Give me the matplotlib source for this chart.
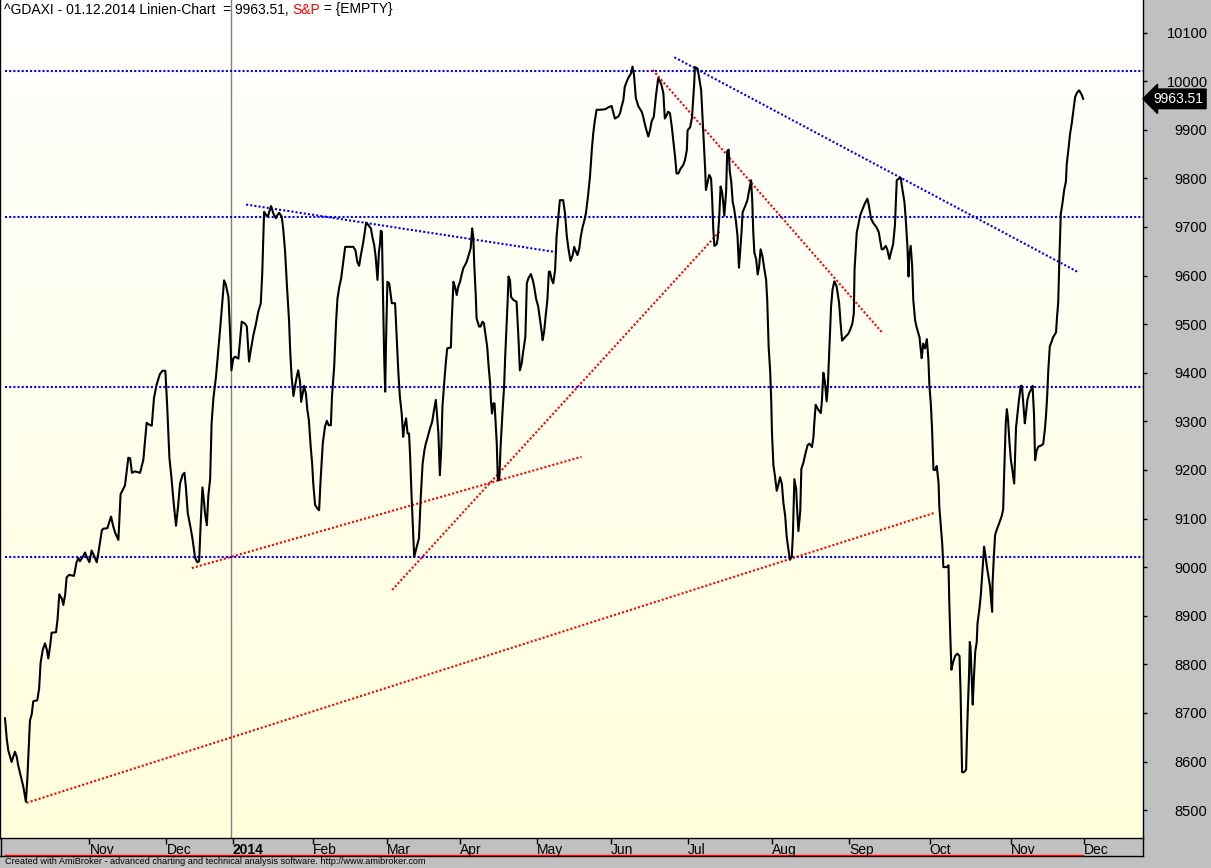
import numpy as np
import matplotlib
matplotlib.use('Agg')
import matplotlib.pyplot as plt
from matplotlib.colors import LinearSegmentedColormap
from matplotlib.lines import Line2D
from matplotlib.transforms import blended_transform_factory

# ^GDAXI daily closes, x = trading day number from the first bar
bar = [0.0, 0.5, 0.9, 1.8, 2.7, 3.2, 3.6, 4.3, 5.0, 5.7, 6.1, 6.8, 7.3, 7.7, 8.8, 9.3, 9.7, 10.3, 10.9, 11.4,
       11.8, 12.3, 12.7, 13.9, 14.3, 14.8, 15.5, 15.9, 16.4, 16.8, 17.5, 18.8, 19.5, 20.0, 20.4, 21.2, 21.8, 22.4,
       23.0, 23.6, 24.3, 25.0, 25.4, 26.4, 26.8, 27.9, 28.9, 29.5, 30.0, 30.9, 31.5, 32.7, 33.6, 34.1, 34.6, 35.4,
       36.8, 37.7, 38.6, 39.3, 40.0, 40.6, 41.3, 42.2, 42.9, 43.7, 44.2, 44.8, 45.4, 45.9, 46.6, 47.2, 47.7, 48.4,
       48.9, 49.3, 49.8, 50.6, 51.1, 51.8, 52.4, 52.9, 53.3, 53.8, 54.2, 54.5, 55.0, 55.4, 55.9, 56.3, 56.8, 57.5,
       58.1, 58.8, 59.7, 60.2, 60.9, 61.5, 61.7,
       62.2, 62.7, 63.6, 64.5, 65.4, 65.9, 66.5, 66.9, 67.7, 68.4, 69.0, 69.7, 70.1, 70.6, 71.1, 71.6, 72.0, 72.5,
       73.1, 73.8, 74.2, 74.7, 75.4, 75.8, 76.3, 76.9, 77.4, 77.7, 78.1, 78.6, 79.0, 79.5, 79.9, 80.4, 80.7, 81.1,
       81.5, 82.0, 82.4, 82.8, 83.3, 83.7, 84.0, 84.5, 85.1, 85.6, 86.0, 86.6, 87.2, 87.7, 88.2, 88.8, 89.1, 89.7,
       90.2, 90.6, 91.1, 91.6, 92.0, 92.7, 94.9, 95.5, 96.0, 96.5, 96.9, 97.5, 98.0, 98.4, 99.0, 99.7, 100.2,
       100.6, 101.0, 101.3, 101.5, 101.9, 102.2, 102.4, 102.7, 102.9, 103.1, 103.3, 103.6, 103.8, 104.2, 104.7,
       105.4, 106.3, 106.7, 107.2, 107.6, 108.1, 108.5, 108.8, 109.3, 109.7, 110.1, 110.4, 110.8, 111.3, 111.5,
       112.2, 112.8, 113.3, 113.8, 114.3, 114.7, 115.2, 115.8, 116.4, 116.9, 117.4, 117.7, 118.1, 118.3, 118.5,
       118.9, 119.2, 119.6, 120.1, 120.5, 121.5, 121.7, 122.2, 122.6, 123.1, 123.5, 124.0, 124.5, 124.9,
       125.8, 126.9, 127.3, 127.6, 127.9, 128.3, 128.5, 129.2, 129.6, 130.1, 130.5, 131.0, 131.4, 131.8, 132.2,
       132.4, 132.7, 133.1, 133.4, 133.7, 134.0, 134.3, 134.7, 135.0, 135.3, 135.6, 136.0, 136.3, 136.7, 137.0,
       137.2, 137.6, 137.9, 138.5, 139.4, 139.9, 140.3, 140.8, 141.2, 141.8, 142.2, 142.6, 143.3, 143.8, 144.2,
       144.7, 145.3, 145.8, 146.3, 146.5, 146.9, 147.4, 147.8, 148.2, 148.5, 149.0, 149.4, 149.9, 150.3, 150.8,
       151.2, 152.1, 152.6, 153.1, 153.6, 154.1, 154.7, 155.1, 155.6, 156.0, 156.5, 156.9, 157.4, 157.8, 158.3,
       158.9, 159.4, 159.9, 160.3, 160.7, 161.2, 162.1, 163.5, 164.4, 165.3, 165.7, 166.2, 167.1, 167.6, 168.0,
       168.5, 168.9, 169.8, 170.6, 171.0, 171.4, 171.9, 172.6, 173.5, 173.9, 174.4, 174.9, 175.3, 175.8, 176.2,
       176.8, 177.4, 178.0, 178.5, 178.9, 179.4, 179.8, 180.3, 180.7, 181.2, 181.7, 182.1, 182.6, 183.0, 183.5,
       184.1, 184.8, 185.3, 185.8, 186.0, 186.7, 187.2, 187.8, 188.0, 188.7, 189.2, 189.7, 190.0, 190.5, 190.8,
       191.0, 191.5, 191.9, 192.4, 192.7, 193.0, 193.3, 193.9, 194.2, 194.6, 195.0, 195.4, 195.7, 196.0, 196.5,
       196.8, 197.2, 197.5, 197.9, 198.3, 198.7, 199.2, 199.6, 200.0, 200.3, 200.7, 201.0, 201.6, 202.3, 202.7,
       203.3, 203.6, 203.9, 204.2, 204.7, 205.1, 205.5, 205.9, 206.4, 206.8, 207.4, 207.7, 208.1, 208.5, 208.8,
       209.0, 209.4, 209.8, 210.3, 210.7, 211.2, 211.7, 212.1, 212.6, 213.0, 213.5, 213.9, 214.4, 214.7, 215.1,
       215.6, 215.8, 216.2, 216.7, 217.0, 217.6, 218.0, 218.7, 219.2, 219.9, 220.3, 220.5, 220.9, 221.6, 222.3,
       222.6, 223.0, 223.4, 223.9, 224.2, 224.6, 225.1, 225.5, 226.0, 226.6, 227.3, 227.7, 228.1, 228.9, 229.8,
       230.4, 230.9, 231.3, 231.5, 232.1, 232.5, 233.0, 233.7, 234.3, 235.0, 235.4, 236.0, 236.6, 237.5, 238.1,
       238.4, 238.9, 239.3, 240.0, 240.4, 241.0, 241.4, 242.0, 242.5, 243.0, 243.7, 244.1, 244.5, 245.1, 245.5,
       245.9, 246.2, 246.4, 246.8, 247.2, 247.5, 248.0, 248.4, 249.2, 249.5, 249.8, 250.2, 250.7, 251.2, 251.6,
       251.9, 252.3, 252.6, 253.0, 253.5, 253.9, 254.4, 254.6, 255.0, 255.4, 255.7, 256.6, 257.1, 257.3, 257.6,
       257.9, 258.3, 258.9, 259.5, 260.1, 260.4, 260.6, 260.8, 261.3, 261.9, 262.1, 262.4, 262.7, 262.9, 263.1,
       263.4, 263.7, 264.0, 264.4, 264.8, 265.0, 265.5, 265.9, 266.4, 266.8, 267.1, 267.5, 268.0, 268.4, 268.7,
       269.0, 269.1, 269.5, 269.8, 270.2, 270.9, 271.6, 272.0, 272.3, 272.7, 273.0, 273.3, 273.7, 274.1, 274.5,
       275.0, 275.2, 275.5, 275.9, 276.3, 276.8, 277.1, 277.5, 277.9, 278.2, 278.6, 279.1, 279.8, 280.0, 280.4,
       280.7, 281.1, 281.6, 282.3, 282.9, 283.4, 283.7, 284.0, 284.3, 284.7, 285.2, 285.6, 286.4, 286.7, 287.0,
       287.3, 287.7, 288.1, 288.6, 289.1, 289.3, 289.8, 290.2, 290.7, 291.1, 291.6, 292.1, 292.7, 293.4, 293.8]

close = [8689, 8645, 8623, 8599, 8620, 8610, 8592, 8570, 8548, 8517, 8566, 8684, 8698, 8724, 8726, 8750, 8803,
         8830, 8843, 8830, 8812, 8838, 8865, 8866, 8891, 8944, 8935, 8922, 8944, 8979, 8984, 8982, 9010, 9019,
         9012, 9021, 9030, 9019, 9010, 9034, 9023, 9010, 9027, 9076, 9079, 9080, 9104, 9084, 9071, 9056, 9150,
         9168, 9225, 9224, 9194, 9197, 9194, 9221, 9297, 9293, 9291, 9348, 9375, 9397, 9404, 9404, 9331, 9225,
         9181, 9137, 9085, 9128, 9172, 9190, 9194, 9164, 9111, 9080, 9058, 9019, 9010, 9012, 9085, 9164, 9137,
         9111, 9086, 9146, 9181, 9296, 9348, 9392, 9445, 9506, 9590, 9581, 9555, 9454, 9405,
         9429, 9433, 9429, 9505, 9501, 9495, 9423, 9443, 9478, 9501, 9525, 9543, 9604, 9731, 9725, 9721, 9731,
         9743, 9728, 9718, 9724, 9729, 9721, 9697, 9652, 9570, 9508, 9447, 9392, 9352, 9371, 9392, 9405, 9381,
         9340, 9357, 9373, 9357, 9323, 9303, 9248, 9213, 9172, 9128, 9121, 9117, 9179, 9255, 9289, 9301, 9292,
         9292, 9351, 9412, 9502, 9553, 9577, 9594, 9618, 9659, 9659, 9652, 9628, 9620, 9639, 9663, 9687, 9709,
         9704, 9697, 9676, 9663, 9639, 9611, 9591, 9649, 9666, 9692, 9690, 9611, 9522, 9440, 9361, 9453, 9587,
         9584, 9543, 9543, 9481, 9399, 9351, 9316, 9268, 9289, 9306, 9275, 9275, 9227, 9145, 9059, 9021, 9042,
         9059, 9145, 9213, 9241, 9255, 9268, 9285, 9299, 9323, 9344, 9316, 9275, 9234, 9189, 9248, 9330, 9371,
         9419, 9450, 9452, 9501, 9587, 9577, 9560, 9577, 9587, 9604, 9615,
         9628, 9656, 9697, 9680, 9618, 9556, 9512, 9495, 9495, 9505, 9502, 9474, 9453, 9412, 9378, 9344, 9316,
         9337, 9337, 9296, 9255, 9179, 9179, 9241, 9282, 9323, 9371, 9433, 9501, 9553, 9598, 9591, 9556, 9550,
         9546, 9474, 9405, 9419, 9443, 9474, 9584, 9594, 9603, 9591, 9577, 9553, 9536, 9508, 9481, 9467, 9484,
         9522, 9550, 9608, 9608, 9591, 9584, 9611, 9680, 9721, 9755, 9755, 9728, 9680, 9652, 9630, 9642, 9659,
         9649, 9642, 9656, 9680, 9700, 9711, 9728, 9766, 9803, 9858, 9893, 9917, 9941, 9941, 9942, 9946, 9949,
         9937, 9923, 9927, 9934, 9947, 9961, 9989, 10006, 10016, 10030, 10013, 9965, 9948, 9937, 9927, 9910,
         9896, 9886, 9900, 9917, 9927, 9971, 10006, 9999, 9992, 9975, 9923, 9930, 9937, 9934, 9906, 9879, 9844,
         9810, 9810, 9820, 9827, 9838, 9858, 9899, 9905, 9925, 9994, 10029, 10026, 10005, 9981, 9935, 9862,
         9817, 9776, 9793, 9807, 9800, 9758, 9696, 9661, 9664, 9675, 9717, 9783, 9772, 9751, 9723, 9772, 9856,
         9859, 9814, 9793, 9751, 9737, 9710, 9682, 9616, 9647, 9689, 9730, 9741, 9755, 9772, 9796, 9758, 9689,
         9647, 9633, 9602, 9619, 9654, 9640, 9619, 9591, 9550, 9452, 9404, 9341, 9275, 9209, 9188, 9157, 9168,
         9185, 9171, 9133, 9105, 9063, 9035, 9015, 9022, 9067, 9181, 9160, 9126, 9074, 9115, 9202, 9216, 9230,
         9251, 9254, 9247, 9268, 9293, 9334, 9324, 9317, 9341, 9400, 9383, 9341, 9369, 9445, 9536, 9571, 9588,
         9578, 9543, 9501, 9466, 9473, 9480, 9490, 9501, 9522, 9612, 9689, 9703, 9723, 9737, 9748, 9758, 9744,
         9717, 9708, 9699, 9689, 9675, 9654, 9654, 9661, 9654, 9634, 9647, 9664, 9703, 9796, 9800, 9801, 9779,
         9751, 9710, 9661, 9598, 9640, 9661, 9619, 9550, 9508, 9494, 9473, 9450, 9430, 9460, 9450, 9469, 9430,
         9373, 9334, 9287, 9200, 9200, 9208, 9172, 9124, 9085, 9047, 9000, 9000, 9004, 8932, 8856, 8789, 8803,
         8817, 8822, 8817, 8740, 8654, 8578, 8578, 8583, 8645, 8717, 8780, 8846, 8836, 8779, 8717, 8769, 8827,
         8846, 8884, 8913, 8942, 8999, 9042, 9028, 9004, 8980, 8961, 8932, 8908, 8966, 9028, 9066, 9076, 9090,
         9105, 9119, 9200, 9296, 9325, 9306, 9258, 9220, 9200, 9172, 9220, 9287, 9315, 9344, 9373, 9373, 9334,
         9296, 9315, 9344, 9358, 9368, 9373, 9315, 9220, 9239, 9248, 9250, 9253, 9286, 9315, 9354, 9406, 9454,
         9464, 9473, 9483, 9517, 9545, 9631, 9727, 9746, 9775, 9794, 9828, 9861, 9890, 9914, 9938, 9967, 9976,
         9981, 9972, 9963.51]

last_close = 9963.51

month_bars = [23, 44, 62, 84, 104, 124, 145, 165, 186, 209, 230, 252, 274, 294]
month_labels = ['Nov', 'Dec', '2014', 'Feb', 'Mar', 'Apr', 'May', 'Jun', 'Jul', 'Aug', 'Sep', 'Oct', 'Nov', 'Dec']
year_bar = 62

price_ticks = list(range(8500, 10101, 100))

# horizontal support / resistance levels (blue)
blue_levels = [10020, 9720, 9370, 9020]
# trend lines: (bar1, price1, bar2, price2)
blue_trends = [(65.7, 9746, 150.3, 9648),
               (182.4, 10049, 292.4, 9607)]
red_trends = [(5.9, 8515, 253.4, 9112),
              (50.9, 8998, 157.1, 9227),
              (105.5, 8953, 194.8, 9691),
              (176.5, 10023, 239.1, 9482)]

W, H = 1211, 868
fig = plt.figure(figsize=(W / 100, H / 100), dpi=100, facecolor='#c0c0c0')
plt.rcParams['font.family'] = ['Liberation Sans', 'DejaVu Sans']

ax_l, ax_r, ax_b = 0, 1143, 838
ax = fig.add_axes([ax_l / W, (H - ax_b) / H, (ax_r - ax_l) / W, ax_b / H])
ax.set_zorder(2)

xlim = (-1.36, 310.1)
ylim = (8442.6, 10166.9)
ax.set_xlim(*xlim)
ax.set_ylim(*ylim)

# white -> pale yellow background
grad = LinearSegmentedColormap.from_list('bg', ['#ffffff', '#ffffdc'])
ax.imshow(np.linspace(0, 1, 256).reshape(-1, 1), cmap=grad, aspect='auto',
          extent=[xlim[0], xlim[1], ylim[0], ylim[1]], origin='upper', zorder=0)

ax.axvline(year_bar - 0.3, color='#808080', lw=1, zorder=1)

dot = (0, (1, 1))
ax.hlines(blue_levels, bar[0], xlim[1], colors='#0000ff', lw=1.5, linestyles=dot, zorder=2)
for x1, y1, x2, y2 in blue_trends:
    ax.plot([x1, x2], [y1, y2], color='#0000ff', lw=1.5, ls=dot, zorder=2)
for x1, y1, x2, y2 in red_trends:
    ax.plot([x1, x2], [y1, y2], color='#ff0000', lw=1.5, ls=dot, zorder=2)

ax.plot(bar, close, color='black', lw=1.5, zorder=3)

# title line, multi coloured
fs = 10
t = ax.text(4 / (ax_r - ax_l), 1 - 9.5 / ax_b, '^GDAXI - 01.12.2014 Linien-Chart  = %.2f, ' % last_close,
            transform=ax.transAxes, fontsize=fs, va='center', ha='left', color='black')
t = ax.annotate('S&P', xycoords=t, xy=(1, 0), va='bottom', fontsize=fs, color='#ff0000')
ax.annotate(' = {EMPTY}', xycoords=t, xy=(1, 0), va='bottom', fontsize=fs, color='black')

# axes styling
for s in ['left', 'right', 'bottom']:
    ax.spines[s].set_color('black')
    ax.spines[s].set_linewidth(1)
ax.spines['top'].set_visible(False)

ax.set_yticks(price_ticks)
ax.set_yticklabels([str(p) for p in price_ticks])
ax.tick_params(axis='y', left=False, labelleft=False, right=True, labelright=True,
               direction='out', length=3, width=1, pad=43.5, labelsize=10.5)
for lab in ax.get_yticklabels():
    lab.set_horizontalalignment('right')

ax.set_xticks(month_bars)
ax.set_xticklabels(month_labels)
ax.tick_params(axis='x', direction='out', length=4, width=1, pad=-0.5, labelsize=fs)
for lab in ax.get_xticklabels():
    lab.set_horizontalalignment('left')
    if lab.get_text() == '2014':
        lab.set_fontweight('bold')

# last price tag
ax.annotate('%.2f' % last_close, xy=(1, last_close), xycoords=('axes fraction', 'data'),
            xytext=(7.5, 0), textcoords='offset points', ha='left', va='center',
            fontsize=10, color='white', annotation_clip=False,
            bbox=dict(boxstyle='larrow,pad=0.2', fc='black', ec='black'))

# date band below the chart
band_bot = (H - 856) / H
band_top = (H - ax_b) / H
fig.add_artist(Line2D([0, ax_r / W], [band_bot, band_bot], color='black', lw=1))
fig.add_artist(Line2D([ax_r / W, ax_r / W], [band_bot, band_top], color='black', lw=1))
fig.add_artist(Line2D([0.5 / W, 0.5 / W], [band_bot, band_top], color='black', lw=1))
tr = blended_transform_factory(ax.transData, fig.transFigure)
fig.add_artist(Line2D([bar[0], bar[-1]], [(H - 854.5) / H] * 2, color='#ff0000', lw=1, transform=tr))

fig.text(5 / W, (H - 862) / H, 'Created with AmiBroker - advanced charting and technical analysis software. '
         'http://www.amibroker.com', fontsize=6.6, va='center', ha='left', color='black')

fig.savefig('out.png', dpi=100, facecolor=fig.get_facecolor())
